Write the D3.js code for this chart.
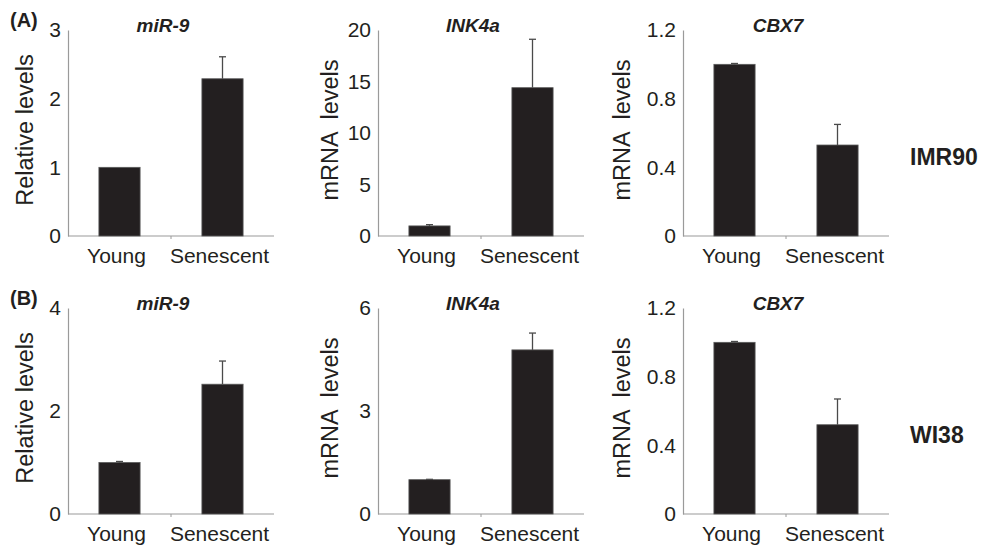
<!DOCTYPE html>
<html>
<head>
<meta charset="utf-8">
<script src="https://cdn.jsdelivr.net/npm/d3@7"></script>
<style>
  html, body { margin: 0; padding: 0; background: #fff; }
  svg text { font-family: "Liberation Sans", Arial, sans-serif; fill: #231f20; }
</style>
</head>
<body>
<script>
'use strict';

// categories and panels
var categories = ["Young", "Senescent"];
var genes = ["miR-9", "INK4a", "CBX7"];
var yTitles = ["Relative levels", "mRNA  levels", "mRNA  levels"];
var rowLabels = ["IMR90", "WI38"];
var panelLetters = ["(A)", "(B)"];

// (A) IMR90 — mean values and error bars, per gene [Young, Senescent]
var imr90Values = [[1.0, 2.29], [0.98, 14.4], [1.0, 0.53]];
var imr90Errors = [[0.0, 0.32], [0.12, 4.7], [0.005, 0.12]];
var imr90Ticks = [[0, 1, 2, 3], [0, 5, 10, 15, 20], [0, 0.4, 0.8, 1.2]];

// (B) WI38
var wi38Values = [[1.0, 2.52], [1.0, 4.78], [1.0, 0.52]];
var wi38Errors = [[0.02, 0.45], [0.01, 0.49], [0.005, 0.15]];
var wi38Ticks = [[0, 2, 4], [0, 3, 6], [0, 0.4, 0.8, 1.2]];

var rows = [
  { values: imr90Values, errors: imr90Errors, ticks: imr90Ticks },
  { values: wi38Values, errors: wi38Errors, ticks: wi38Ticks }
];

var width = 982;
var height = 547;

// panel geometry
var colX = [68, 378, 683];
var rowTop = [30, 308];
var plotW = 206;
var plotH = 206;
var yTitleOffset = [35, 40, 53];

var svg = d3.select("body")
  .append("svg")
  .attr("width", width)
  .attr("height", height);

rows.forEach(function (row, r) {
  genes.forEach(function (gene, c) {
    var x0 = colX[c];
    var y0 = rowTop[r];
    var ticks = row.ticks[c];

    var x = d3.scaleBand()
      .domain(categories)
      .range([x0, x0 + plotW])
      .paddingInner(0.6)
      .paddingOuter(0.3);

    var y = d3.scaleLinear()
      .domain([0, ticks[ticks.length - 1]])
      .range([y0 + plotH, y0]);

    var g = svg.append("g");

    // y axis
    var yAxis = g.append("g")
      .attr("transform", "translate(" + x0 + ",0)")
      .call(d3.axisLeft(y).tickValues(ticks).tickSize(0).tickPadding(7)
        .tickFormat(function (d) { return String(d); }));
    yAxis.select(".domain").attr("stroke", "#9a9a9a").attr("stroke-width", 1.2);
    yAxis.selectAll("text")
      .style("font-size", "21px")
      .attr("fill", "#231f20");

    // x axis: baseline with a category divider tick
    g.append("line")
      .attr("x1", x0).attr("x2", x0 + plotW)
      .attr("y1", y(0)).attr("y2", y(0))
      .attr("stroke", "#9a9a9a").attr("stroke-width", 1.2);
    g.append("line")
      .attr("x1", x0 + plotW / 2).attr("x2", x0 + plotW / 2)
      .attr("y1", y(0)).attr("y2", y(0) + 3)
      .attr("stroke", "#9a9a9a").attr("stroke-width", 1);

    // bars
    g.selectAll("rect.bar")
      .data(categories)
      .enter()
      .append("rect")
      .attr("class", "bar")
      .attr("x", function (d) { return x(d); })
      .attr("width", x.bandwidth())
      .attr("y", function (d, i) { return y(row.values[c][i]); })
      .attr("height", function (d, i) { return y(0) - y(row.values[c][i]); })
      .attr("fill", "#231f20")
      .attr("stroke", "#5a5a5a")
      .attr("stroke-width", 0.8);

    // error bars (upper only)
    categories.forEach(function (cat, i) {
      var cx = x(cat) + x.bandwidth() / 2;
      var top = y(row.values[c][i] + row.errors[c][i]);
      if (row.errors[c][i] <= 0) return;
      g.append("line")
        .attr("x1", cx).attr("x2", cx)
        .attr("y1", y(row.values[c][i])).attr("y2", top)
        .attr("stroke", "#4a4a4a").attr("stroke-width", 1.3);
      g.append("line")
        .attr("x1", cx - 3.5).attr("x2", cx + 3.5)
        .attr("y1", top).attr("y2", top)
        .attr("stroke", "#4a4a4a").attr("stroke-width", 1.3);
    });

    // category labels
    g.selectAll("text.cat")
      .data(categories)
      .enter()
      .append("text")
      .attr("class", "cat")
      .attr("x", function (d) { return x(d) + x.bandwidth() / 2 - 3; })
      .attr("y", y(0) + 27)
      .attr("text-anchor", "middle")
      .style("font-size", "21px")
      .text(function (d) { return d; });

    // gene title
    g.append("text")
      .attr("x", x0 + plotW / 2 - 8)
      .attr("y", y0 + 2)
      .attr("text-anchor", "middle")
      .style("font-size", "19px")
      .style("font-weight", "bold")
      .style("font-style", "italic")
      .text(gene);

    // y axis title
    g.append("text")
      .attr("transform", "translate(" + (x0 - yTitleOffset[c]) + "," + (y0 + plotH / 2 - 3) + ") rotate(-90)")
      .attr("text-anchor", "middle")
      .style("font-size", "23.5px")
      .style("white-space", "pre")
      .text(yTitles[c]);
  });

  // panel letter and cell line label
  svg.append("text")
    .attr("x", 10)
    .attr("y", rowTop[r] - 3)
    .style("font-size", "20px")
    .style("font-weight", "bold")
    .text(panelLetters[r]);

  svg.append("text")
    .attr("x", 910)
    .attr("y", rowTop[r] + plotH / 2 + 32)
    .style("font-size", "23px")
    .style("font-weight", "bold")
    .text(rowLabels[r]);
});
</script>
</body>
</html>
